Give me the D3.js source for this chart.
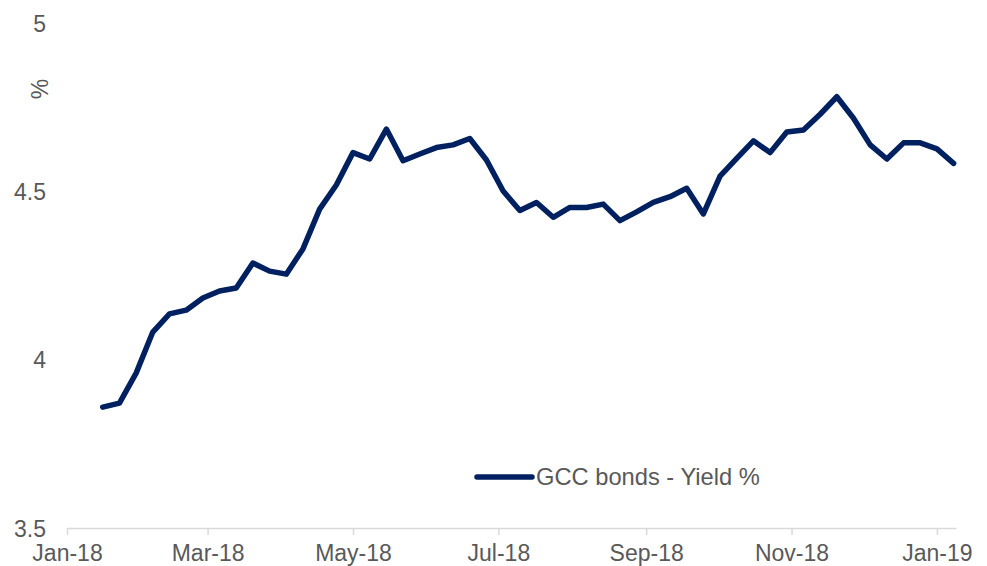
<!DOCTYPE html>
<html>
<head>
<meta charset="utf-8">
<script src="https://cdn.jsdelivr.net/npm/d3@7"></script>
<style>
  html, body { margin: 0; padding: 0; background: #fff; }
  svg { display: block; }
  text { font-family: "Liberation Sans", Arial, sans-serif; fill: #595959; }
</style>
</head>
<body>
<svg id="chart" width="987" height="566"></svg>
<script>
const dates = [
  "2018-01-16","2018-01-23","2018-01-30","2018-02-06","2018-02-13","2018-02-20","2018-02-27",
  "2018-03-06","2018-03-13","2018-03-20","2018-03-27","2018-04-03","2018-04-10","2018-04-17",
  "2018-04-24","2018-05-01","2018-05-08","2018-05-15","2018-05-22","2018-05-29","2018-06-05",
  "2018-06-12","2018-06-19","2018-06-26","2018-07-03","2018-07-10","2018-07-17","2018-07-24",
  "2018-07-31","2018-08-07","2018-08-14","2018-08-21","2018-08-28","2018-09-04","2018-09-11",
  "2018-09-18","2018-09-25","2018-10-02","2018-10-09","2018-10-16","2018-10-23","2018-10-30",
  "2018-11-06","2018-11-13","2018-11-20","2018-11-27","2018-12-04","2018-12-11","2018-12-18",
  "2018-12-25","2019-01-01","2019-01-08"
];
const yieldValues = [
  3.859, 3.871, 3.960, 4.082, 4.136, 4.147, 4.183,
  4.204, 4.213, 4.287, 4.263, 4.254, 4.329, 4.447,
  4.519, 4.615, 4.596, 4.685, 4.591, 4.611, 4.630,
  4.638, 4.657, 4.593, 4.501, 4.443, 4.467, 4.423,
  4.452, 4.452, 4.462, 4.413, 4.439, 4.467, 4.484,
  4.509, 4.433, 4.545, 4.598, 4.650, 4.615, 4.676,
  4.682, 4.729, 4.781, 4.717, 4.638, 4.596, 4.644,
  4.644, 4.626, 4.583
];
const xTickDates = ["2018-01-01","2018-03-01","2018-05-01","2018-07-01","2018-09-01","2018-11-01","2019-01-01"];
const yTickValues = [3.5, 4, 4.5, 5];
const seriesName = "GCC bonds - Yield %";
const yUnit = "%";

const parse = d3.utcParse("%Y-%m-%d");
const data = dates.map((d, i) => ({ date: parse(d), value: yieldValues[i] }));

const svg = d3.select("#chart");
const fontSize = 23;

const x = d3.scaleUtc()
  .domain([parse("2018-01-01"), parse("2019-01-09")])
  .range([67, 956]);
const y = d3.scaleLinear()
  .domain([3.5, 5])
  .range([528, 23]);

// X axis
const xAxis = d3.axisBottom(x)
  .tickValues(xTickDates.map(parse))
  .tickFormat(d3.utcFormat("%b-%y"))
  .tickSize(7)
  .tickSizeOuter(0);
const gx = svg.append("g").attr("transform", "translate(0,528)").call(xAxis);
gx.select(".domain").attr("stroke", "#d9d9d9").attr("stroke-width", 1.5);
gx.selectAll(".tick line").attr("stroke", "#d9d9d9").attr("stroke-width", 1.5);
gx.selectAll(".tick text")
  .attr("fill", "#595959")
  .attr("font-size", fontSize)
  .attr("font-family", "Liberation Sans, Arial, sans-serif")
  .attr("y", 0).attr("dy", 0)
  .attr("transform", "translate(0,32.5)");

// Y axis (labels only)
const yAxis = d3.axisLeft(y).tickValues(yTickValues).tickFormat(d3.format("")).tickSize(0).tickPadding(0);
const gy = svg.append("g").attr("transform", "translate(46,0)").call(yAxis);
gy.select(".domain").remove();
gy.selectAll(".tick text")
  .attr("fill", "#595959")
  .attr("font-size", fontSize)
  .attr("font-family", "Liberation Sans, Arial, sans-serif")
  .attr("x", 0)
  .attr("dy", "0.35em");

// Y unit label
svg.append("text")
  .attr("transform", "translate(48,89) rotate(-90)")
  .attr("text-anchor", "middle")
  .attr("font-size", fontSize)
  .text(yUnit);

// Line
const line = d3.line().x(d => x(d.date)).y(d => y(d.value));
svg.append("path")
  .datum(data)
  .attr("fill", "none")
  .attr("stroke", "#002060")
  .attr("stroke-width", 5.5)
  .attr("stroke-linejoin", "round")
  .attr("stroke-linecap", "round")
  .attr("d", line);

// Legend
const lg = svg.append("g").attr("transform", "translate(477,477)");
lg.append("line")
  .attr("x1", 0).attr("x2", 55).attr("y1", 0).attr("y2", 0)
  .attr("stroke", "#002060").attr("stroke-width", 5.5).attr("stroke-linecap", "round");
lg.append("text")
  .attr("x", 59).attr("dy", "0.35em")
  .attr("font-size", 23.7)
  .text(seriesName);
</script>
</body>
</html>
